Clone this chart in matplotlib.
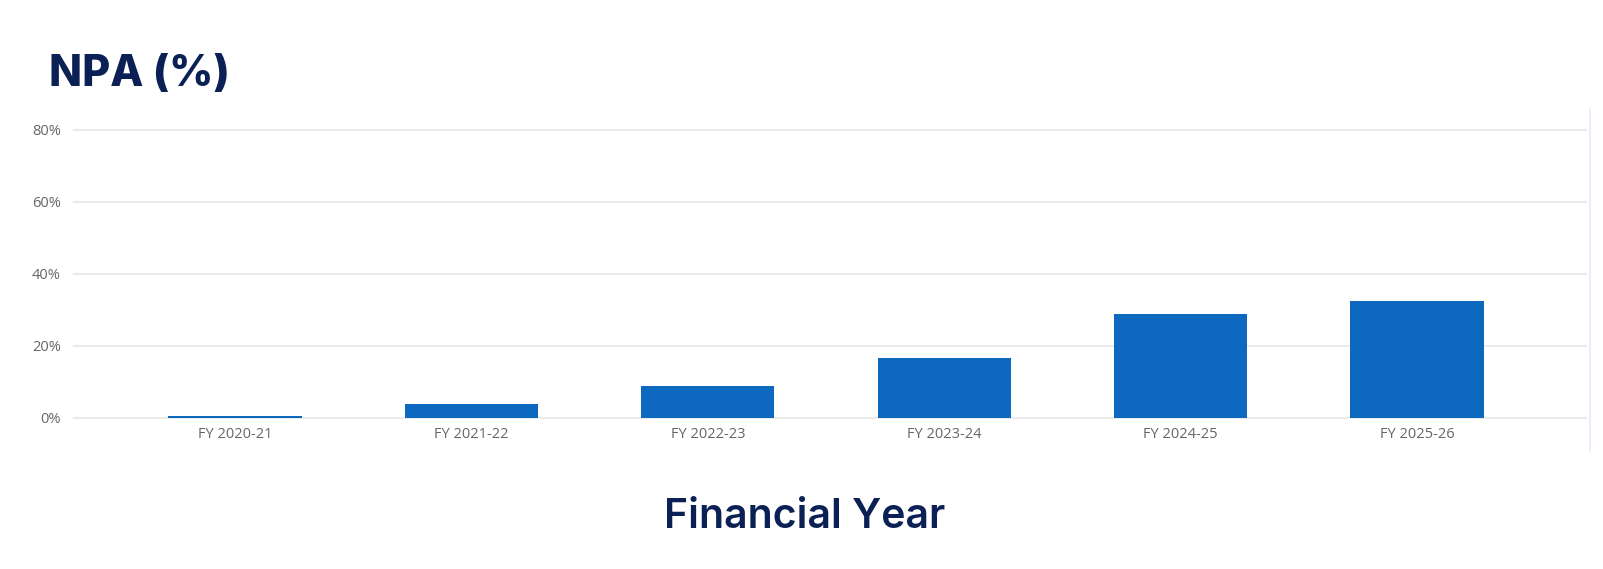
import matplotlib
matplotlib.use("Agg")
import matplotlib.pyplot as plt
from matplotlib.ticker import FuncFormatter
from matplotlib.lines import Line2D

categories = ["FY 2020-21", "FY 2021-22", "FY 2022-23", "FY 2023-24", "FY 2024-25", "FY 2025-26"]
npa_values = [0.6, 3.7, 8.9, 16.5, 28.9, 32.3]
y_ticks = [0, 20, 40, 60, 80]
title_text = "NPA (%)"
xlabel_text = "Financial Year"

W, H = 1603, 569
fig = plt.figure(figsize=(W / 100, H / 100), dpi=100)
fig.patch.set_facecolor("white")

# axes geometry in pixels (ylim -2..82, 3.6 px per unit)
left_px, right_px = 73.3, 1586.7
bottom_px, top_px = 424.9, 122.5
ax = fig.add_axes([left_px / W, 1 - bottom_px / H, (right_px - left_px) / W, (bottom_px - top_px) / H])

x = list(range(len(categories)))
ax.bar(x, npa_values, width=0.564, color="#0d69bf", zorder=3)
ax.set_xlim(-0.684, 5.718)
ax.set_ylim(-2, 82)
ax.set_yticks(y_ticks)
ax.yaxis.set_major_formatter(FuncFormatter(lambda v, p: f"{int(v)}%"))
ax.set_xticks(x)
ax.set_xticklabels(categories)
ax.grid(axis="y", color="#ebebeb", linewidth=1.5, zorder=0)
ax.grid(axis="x", visible=False)
for s in ax.spines.values():
    s.set_visible(False)
ax.tick_params(axis="both", length=0, labelcolor="#666666", labelsize=10.5)
ax.tick_params(axis="y", pad=9)
ax.tick_params(axis="x", pad=1.5)
for lab in ax.get_xticklabels() + ax.get_yticklabels():
    lab.set_family(["Open Sans", "DejaVu Sans"])

# faint right border of chart area
fig.add_artist(Line2D([1590.3 / W, 1590.3 / W], [1 - 109.3 / H, 1 - 451.7 / H],
                      color="#e3effb", linewidth=1.2))

navy = "#0b2054"
fig.text(49 / W, 1 - 85.7 / H, title_text, fontsize=31, fontweight="heavy",
         family=["Inter", "DejaVu Sans"], color=navy, ha="left", va="baseline")
fig.text(805 / W, 1 - 528.3 / H, xlabel_text, fontsize=29.5, fontweight="semibold",
         family=["Inter", "DejaVu Sans"], color=navy, ha="center", va="baseline")

fig.savefig("out.png", dpi=100, facecolor="white")
